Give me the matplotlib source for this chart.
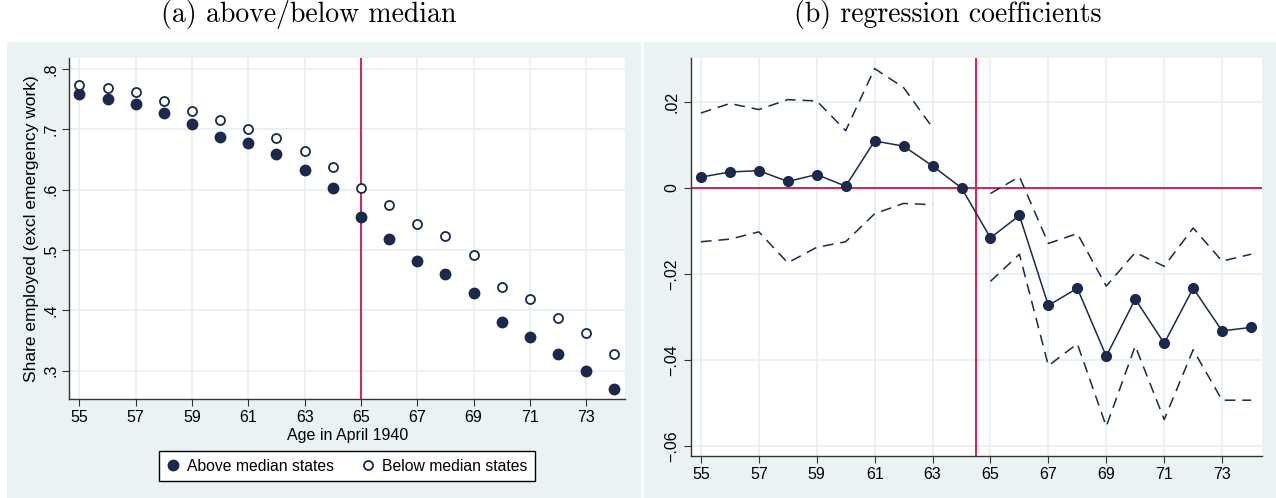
import matplotlib
matplotlib.use("Agg")
import matplotlib.pyplot as plt
from matplotlib.patches import Rectangle

# data
ages = list(range(55, 75))
above = [0.758, 0.751, 0.742, 0.728, 0.709, 0.687, 0.677, 0.659, 0.632, 0.603,
         0.555, 0.518, 0.482, 0.460, 0.429, 0.380, 0.356, 0.327, 0.299, 0.269]
below = [0.774, 0.768, 0.762, 0.747, 0.731, 0.716, 0.701, 0.686, 0.664, 0.637,
         0.603, 0.574, 0.543, 0.523, 0.492, 0.439, 0.418, 0.388, 0.362, 0.327]

coef = [0.0025, 0.0037, 0.0040, 0.0015, 0.0031, 0.0004, 0.0109, 0.0097, 0.0051, 0.0,
        -0.0116, -0.0064, -0.0273, -0.0233, -0.0391, -0.0258, -0.0361, -0.0233, -0.0332, -0.0324]
ci_hi = [0.0174, 0.0196, 0.0182, 0.0205, 0.0202, 0.0133, 0.0277, 0.0233, 0.0140, None,
         -0.0013, 0.0026, -0.0129, -0.0106, -0.0228, -0.0150, -0.0182, -0.0093, -0.0170, -0.0154]
ci_lo = [-0.0125, -0.0119, -0.0102, -0.0174, -0.0138, -0.0125, -0.0060, -0.0036, -0.0039, None,
         -0.0217, -0.0154, -0.0413, -0.0362, -0.0554, -0.0367, -0.0538, -0.0376, -0.0493, -0.0493]

x_ticks = list(range(55, 75, 2))
left_yticks = [0.3, 0.4, 0.5, 0.6, 0.7, 0.8]
left_ylabels = [".3", ".4", ".5", ".6", ".7", ".8"]
right_yticks = [-0.06, -0.04, -0.02, 0.0, 0.02]
right_ylabels = ["\u2212.06", "\u2212.04", "\u2212.02", "0", ".02"]

titles = ["(a) above/below median", "(b) regression coefficients"]

W, H = 1276, 498
navy = "#1b2a4c"
red = "#d42450"
bg = "#eaf2f3"
grid_c = "#e6eff1"

plt.rcParams["font.family"] = ["Liberation Sans", "DejaVu Sans"]

fig = plt.figure(figsize=(W / 100, H / 100), dpi=100)
fig.patch.set_facecolor("white")


def px(x0, y0, x1, y1):
    return [x0 / W, 1 - y1 / H, (x1 - x0) / W, (y1 - y0) / H]


# panel backgrounds
for x0, x1 in [(7, 641), (644, 1276)]:
    fig.patches.append(Rectangle((x0 / W, 0), (x1 - x0) / W, 1 - 42 / H,
                                 transform=fig.transFigure, facecolor=bg,
                                 edgecolor="none", zorder=-5))


def style(ax, yticks, ylabels):
    ax.set_facecolor("white")
    for s in ["top", "right"]:
        ax.spines[s].set_visible(False)
    for s in ["left", "bottom"]:
        ax.spines[s].set_color("#333333")
        ax.spines[s].set_linewidth(1.0)
    ax.set_xticks(x_ticks)
    ax.set_yticks(yticks)
    ax.set_yticklabels(ylabels, rotation=90, va="center")
    ax.tick_params(direction="out", length=5, width=0.8, color="#333333",
                   labelsize=11.5, pad=3)
    ax.grid(True, color=grid_c, linewidth=1.2)
    ax.set_axisbelow(True)


# (a)
ax1 = fig.add_axes(px(69.3, 58.3, 625, 399.3))
style(ax1, left_yticks, left_ylabels)
ax1.set_xlim(54.64, 74.38)
ax1.set_ylim(0.2523, 0.818)
ax1.axvline(65, color=red, linewidth=1.4, zorder=2)
h1, = ax1.plot(ages, above, "o", color=navy, markersize=7.5, zorder=3,
               label="Above median states")
h2, = ax1.plot(ages, below, "o", markerfacecolor="white", markeredgecolor=navy,
               markeredgewidth=1.3, markersize=6.5, zorder=3,
               label="Below median states")
ax1.set_xlabel("Age in April 1940", fontsize=11.5, labelpad=2)
ax1.set_ylabel("Share employed (excl emergency work)", fontsize=12.5, labelpad=3)
leg = fig.legend(handles=[h1, h2], loc="center", ncol=2,
                 bbox_to_anchor=(347 / W, 1 - 466 / H), frameon=True,
                 fancybox=False, edgecolor="black", framealpha=1,
                 fontsize=11.3, handlelength=0.8, handletextpad=0.5,
                 columnspacing=1.8, borderpad=0.45)
leg.get_frame().set_linewidth(1.0)

# (b)
ax2 = fig.add_axes(px(690.7, 58.3, 1261.7, 456))
style(ax2, right_yticks, right_ylabels)
ax2.set_xlim(54.648, 74.367)
ax2.set_ylim(-0.06226, 0.0301)
ax2.axvline(64.5, color=red, linewidth=1.4, zorder=2)
ax2.axhline(0, color=red, linewidth=1.4, zorder=2)
hi = [float("nan") if v is None else v for v in ci_hi]
lo = [float("nan") if v is None else v for v in ci_lo]
ax2.plot(ages, hi, color=navy, linestyle=(0, (7, 4.5)), linewidth=1.1, zorder=3)
ax2.plot(ages, lo, color=navy, linestyle=(0, (7, 4.5)), linewidth=1.1, zorder=3)
ax2.plot(ages, coef, "-o", color=navy, linewidth=1.1, markersize=7, zorder=4)

# titles
fig.text(309 / W, 1 - 22 / H, titles[0], fontfamily="cmr10", fontsize=20,
         ha="center", va="baseline")
fig.text(947.5 / W, 1 - 22 / H, titles[1], fontfamily="cmr10", fontsize=20,
         ha="center", va="baseline")

fig.savefig("out.png", dpi=100, facecolor="white")
